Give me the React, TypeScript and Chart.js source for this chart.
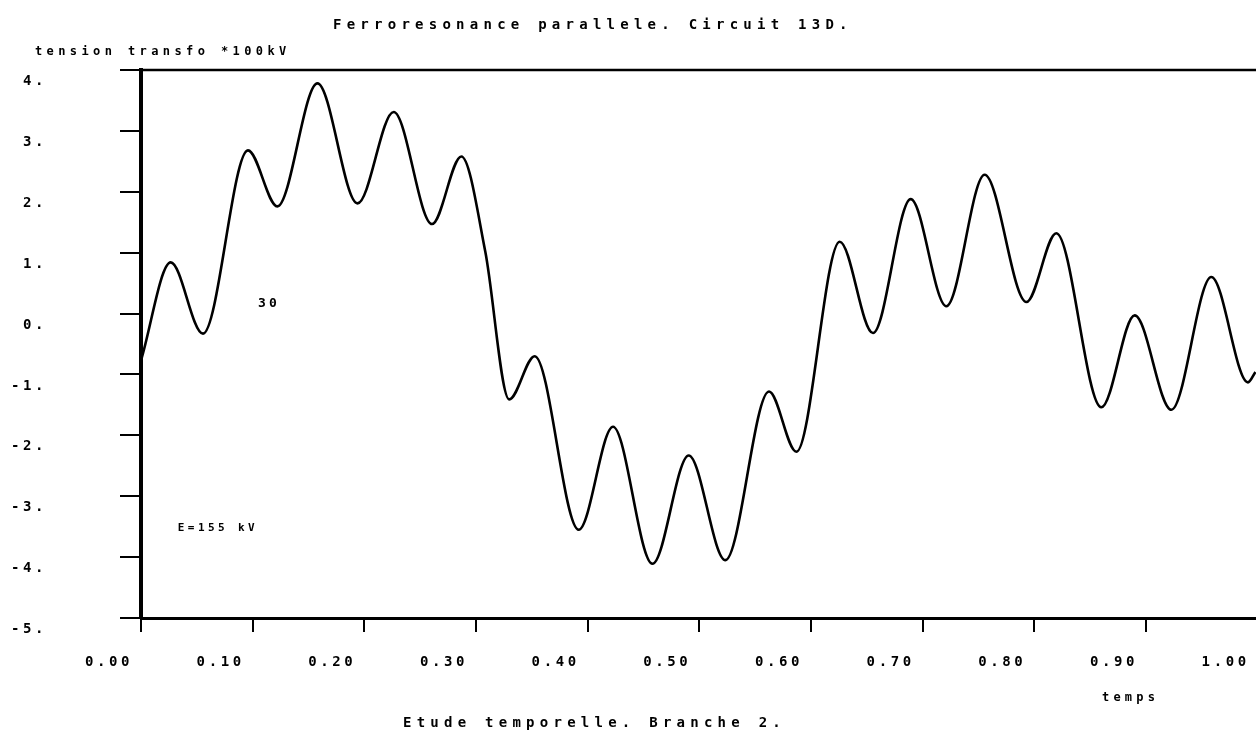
import React, { useEffect, useRef } from "react";
import { Chart, registerables } from "chart.js";

Chart.register(...registerables);

// Time axis (s) and transformer voltage (*100 kV)
const times = [
  0, 0.0266, 0.0555, 0.0958, 0.1221, 0.158, 0.1939, 0.2263, 0.2606, 0.2869,
  0.3083, 0.3297, 0.3526, 0.392, 0.4227, 0.458, 0.4905, 0.5233, 0.5624,
  0.5869, 0.6257, 0.6555, 0.6893, 0.7212, 0.7555, 0.7929, 0.8197, 0.86,
  0.8899, 0.9227, 0.9585, 0.9913, 0.998,
];
const values = [
  -0.77, 0.84, -0.33, 2.68, 1.76, 3.78, 1.81, 3.31, 1.47, 2.58,
  1.02, -1.41, -0.7, -3.55, -1.86, -4.11, -2.33, -4.05, -1.28,
  -2.27, 1.18, -0.32, 1.88, 0.12, 2.28, 0.19, 1.32, -1.54,
  -0.03, -1.58, 0.6, -1.13, -0.96,
];

const xTicks = [0, 0.1, 0.2, 0.3, 0.4, 0.5, 0.6, 0.7, 0.8, 0.9, 1.0];
const xTickLabels = ["0.00", "0.10", "0.20", "0.30", "0.40", "0.50", "0.60", "0.70", "0.80", "0.90", "1.00"];
const yTicks = [-5, -4, -3, -2, -1, 0, 1, 2, 3, 4];
const yTickLabels = ["-5.", "-4.", "-3.", "-2.", "-1.", "0.", "1.", "2.", "3.", "4."];

const titleText = "Ferroresonance parallele. Circuit 13D.";
const subtitleText = "Etude temporelle. Branche 2.";
const yTitleText = "tension transfo *100kV";
const xTitleText = "temps";
const noteCurve = "30";
const noteSource = "E=155 kV";

const FAMILY = '"DejaVu Sans Mono", "Liberation Mono", monospace';

const plotterPlugin = {
  id: "plotterText",
  beforeDraw(chart: any) {
    (chart.ctx as any).letterSpacing = "3.6px";
  },
  afterDraw(chart: any) {
    const ctx = chart.ctx as any;
    const { left, top } = chart.chartArea;
    const xs = chart.scales.x;
    const ys = chart.scales.y;
    ctx.save();
    // top frame line
    ctx.strokeStyle = "#000";
    ctx.lineWidth = 2.5;
    ctx.beginPath();
    ctx.moveTo(left, top);
    ctx.lineTo(chart.width, top);
    ctx.stroke();

    ctx.fillStyle = "#000";
    ctx.textBaseline = "middle";
    ctx.textAlign = "left";
    const draw = (s: string, x: number, y: number, size: number, sp: number) => {
      ctx.font = `bold ${size}px ${FAMILY}`;
      ctx.letterSpacing = `${sp}px`;
      ctx.fillText(s, x, y);
    };
    draw(titleText, 333, 25, 14, 5.25);
    draw(yTitleText, 35, 52, 12, 4.4);
    draw(subtitleText, 403, 723, 14, 5.25);
    draw(xTitleText, 1102, 698, 12, 4.2);
    draw(noteCurve, xs.getPixelForValue(0.1047), ys.getPixelForValue(0.16), 13, 3.3);
    draw(noteSource, xs.getPixelForValue(0.033), ys.getPixelForValue(-3.53), 11, 3.4);
    ctx.restore();
    ctx.letterSpacing = "0px";
  },
};

export default function App() {
  const ref = useRef<HTMLCanvasElement | null>(null);

  useEffect(() => {
    if (!ref.current) return;
    const chart = new Chart(ref.current, {
      type: "line",
      data: {
        datasets: [
          {
            data: times.map((t, i) => ({ x: t, y: values[i] })),
            borderColor: "#000",
            borderWidth: 2.6,
            pointRadius: 0,
            fill: false,
            cubicInterpolationMode: "monotone",
          },
        ],
      },
      options: {
        responsive: false,
        animation: false,
        devicePixelRatio: 1,
        layout: { padding: { top: 70, left: 0, right: 0, bottom: 0 } },
        plugins: {
          legend: { display: false },
          tooltip: { enabled: false },
          title: { display: false },
        },
        scales: {
          x: {
            type: "linear",
            min: 0,
            max: 0.9985,
            grid: {
              display: true,
              drawOnChartArea: false,
              drawTicks: true,
              tickLength: 14,
              lineWidth: 2,
              color: "#000",
            },
            border: { display: true, width: 3, color: "#000" },
            ticks: {
              autoSkip: false,
              maxRotation: 0,
              minRotation: 0,
              padding: 22,
              labelOffset: -32,
              color: "#000",
              font: { family: FAMILY, size: 14, weight: "bold" },
              callback: (_v: any, i: number) => xTickLabels[i],
            },
            afterBuildTicks: (axis: any) => {
              axis.ticks = xTicks.map((v) => ({ value: v }));
            },
            afterFit: (axis: any) => {
              axis.height = 124;
              axis.paddingLeft = 0;
              axis.paddingRight = 0;
            },
          },
          y: {
            type: "linear",
            min: -5,
            max: 4,
            grid: {
              display: true,
              drawOnChartArea: false,
              drawTicks: true,
              tickLength: 21,
              lineWidth: 2,
              color: "#000",
            },
            border: { display: true, width: 4, color: "#000" },
            ticks: {
              autoSkip: false,
              padding: 73,
              labelOffset: 11.5,
              color: "#000",
              font: { family: FAMILY, size: 14, weight: "bold" },
              callback: (_v: any, i: number) => yTickLabels[i],
            },
            afterBuildTicks: (axis: any) => {
              axis.ticks = yTicks.map((v) => ({ value: v }));
            },
            afterFit: (axis: any) => {
              axis.width = 141;
              axis.paddingTop = 0;
              axis.paddingBottom = 0;
            },
          },
        },
      } as any,
      plugins: [plotterPlugin],
    });
    return () => chart.destroy();
  }, []);

  return (
    <div style={{ position: "fixed", left: 0, top: 0, width: 1256, height: 742, background: "#fff" }}>
      <canvas ref={ref} width={1256} height={742} style={{ display: "block" }} />
    </div>
  );
}
